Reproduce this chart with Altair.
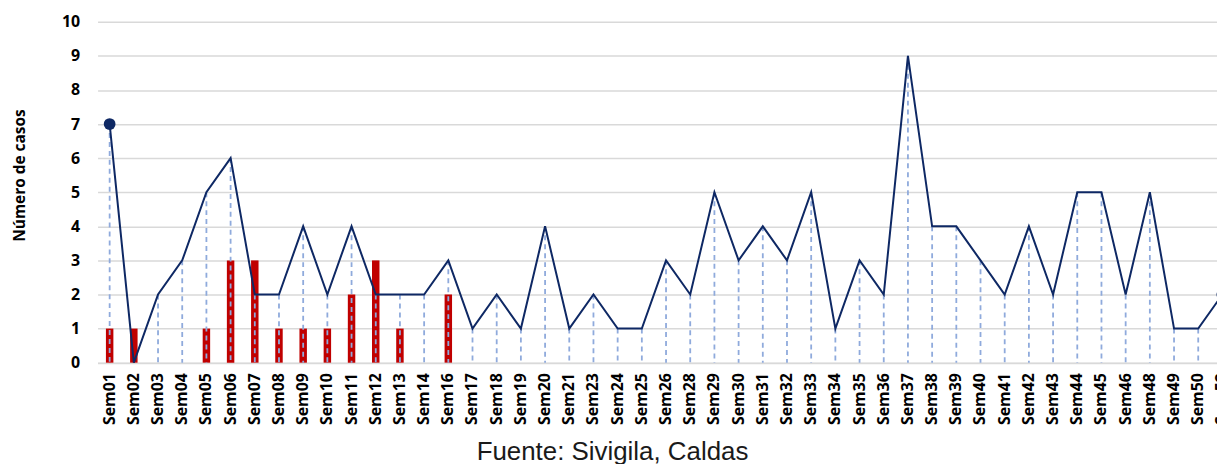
import altair as alt
import pandas as pd

semanas = ["Sem01", "Sem02", "Sem03", "Sem04", "Sem05", "Sem06", "Sem07", "Sem08",
           "Sem09", "Sem10", "Sem11", "Sem12", "Sem13", "Sem14", "Sem16", "Sem17",
           "Sem18", "Sem19", "Sem20", "Sem21", "Sem23", "Sem24", "Sem25", "Sem26",
           "Sem28", "Sem29", "Sem30", "Sem31", "Sem32", "Sem33", "Sem34", "Sem35",
           "Sem36", "Sem37", "Sem38", "Sem39", "Sem40", "Sem41", "Sem42", "Sem43",
           "Sem44", "Sem45", "Sem46", "Sem48", "Sem49", "Sem50", "Sem52"]
casos_linea = [7, 0, 2, 3, 5, 6, 2, 2, 4, 2, 4, 2, 2, 2, 3, 1,
               2, 1, 4, 1, 2, 1, 1, 3, 2, 5, 3, 4, 3, 5, 1, 3,
               2, 9, 4, 4, 3, 2, 4, 2, 5, 5, 2, 5, 1, 1, 2]
casos_barra = [1, 1, 0, 0, 1, 3, 3, 1, 1, 1, 2, 3, 1, 0, 2, 0,
               0, 0, 0, 0, 0, 0, 0, 0, 0, 0, 0, 0, 0, 0, 0, 0,
               0, 0, 0, 0, 0, 0, 0, 0, 0, 0, 0, 0, 0, 0, 0]
marcados = ["Sem01", "Sem52"]

df = pd.DataFrame({"semana": semanas, "total": casos_linea, "barra": casos_barra})

NAVY = "#0E2864"
GRID = "#D9D9D9"
FONT = "Open Sans"

# the reference is cut at its right edge: the category band runs past the view
x_enc = alt.X(
    "semana:N", sort=semanas,
    scale=alt.Scale(paddingInner=0, paddingOuter=0, range=[0, 1142.6]),
    axis=alt.Axis(title=None, labelAngle=270, labelAlign="right", labelBaseline="middle",
                  labelFont=FONT, labelFontWeight="bold", labelFontSize=16,
                  labelColor="#000000", labelPadding=10, ticks=False, tickSize=0,
                  domain=True, domainColor=GRID, domainWidth=1.5, grid=False,
                  labelOverlap=False),
)

y_axis = alt.Axis(values=list(range(11)), title="Número de casos", titleFont=FONT,
                  titleFontSize=15.5, titleFontWeight="bold", titleColor="#000000",
                  titleAngle=270, titleAlign="center", titleBaseline="middle",
                  titleX=-78, titleY=154,
                  labelFont=FONT, labelFontWeight="bold", labelFontSize=16,
                  labelColor="#000000", labelPadding=18, ticks=False, tickSize=0,
                  domain=False, grid=True, gridColor=GRID, gridWidth=1.5)
y_scale = alt.Scale(domain=[0, 10], nice=False)

base = alt.Chart(df)

bars = base.transform_filter("datum.barra > 0").mark_bar(color="#C00000", size=7.5).encode(
    x=x_enc, y=alt.Y("barra:Q", scale=y_scale, axis=y_axis)
)
rules = base.mark_rule(color="#8FAADC", strokeWidth=1.8, strokeDash=[5, 4]).encode(
    x=x_enc, y=alt.Y("total:Q", scale=y_scale, axis=y_axis), y2=alt.datum(0)
)
line = base.mark_line(color=NAVY, strokeWidth=2).encode(
    x=x_enc, y=alt.Y("total:Q", scale=y_scale, axis=y_axis)
)
points = base.transform_filter(
    alt.FieldOneOfPredicate(field="semana", oneOf=marcados)
).mark_circle(size=140, color=NAVY, opacity=1).encode(
    x=x_enc, y=alt.Y("total:Q", scale=y_scale, axis=y_axis)
)

chart = alt.layer(bars, rules, line, points).properties(
    width=1125, height=342.6,
    autosize=alt.AutoSizeParams(type="none"),
    padding={"left": 90, "top": 12.7, "right": 0, "bottom": 100.7},
    title=alt.Title(text="Fuente: Sivigila, Caldas", orient="bottom", anchor="middle",
                    font="Liberation Sans", fontSize=26, fontWeight="normal",
                    color="#1a1a1a", dx=-45, offset=15),
).configure_view(stroke=None)

chart.save("out.html", embed_options={"renderer": "svg", "actions": False})
